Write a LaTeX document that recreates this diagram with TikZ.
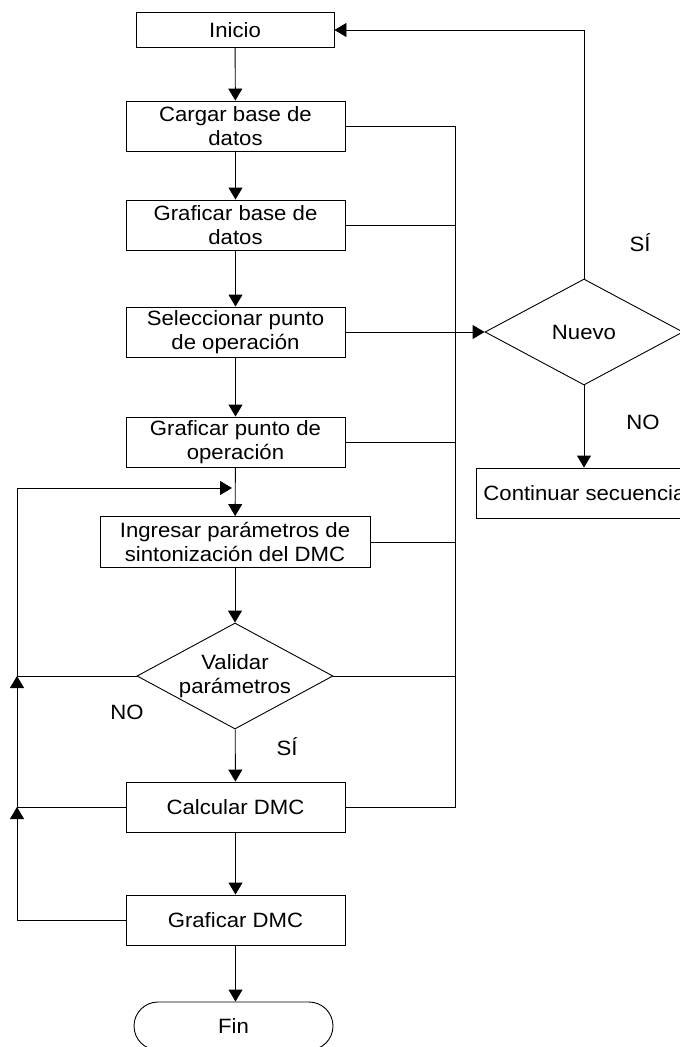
\documentclass[tikz,border=0pt]{standalone}
\usepackage{fontspec}
\setmainfont{Liberation Sans}[FakeStretch=1.07]
\usetikzlibrary{arrows.meta,shapes.geometric}

\begin{document}
\begin{tikzpicture}[x=1pt,y=-1pt,>={Triangle[length=12pt,width=14pt]},line width=0.9pt,
  font=\fontsize{20.7}{24}\selectfont,
  paso/.style={draw,rectangle,align=center,minimum width=219pt,minimum height=50pt,inner sep=2pt},
  decision/.style={draw,diamond,align=center,inner sep=0pt,aspect=1.85},
  terminal/.style={draw,rectangle,rounded corners=24pt,minimum width=199pt,minimum height=48pt}]
\useasboundingbox (0,0) rectangle (680,1047);
\node[paso,minimum width=198pt,minimum height=35pt] (inicio) at (235,30) {Inicio};
\node[paso] (cargar) at (235.5,126) {Cargar base de\\datos};
\node[paso] (grafbase) at (235.5,225) {Graficar base de\\datos};
\node[paso] (selec) at (235.5,332) {Seleccionar punto\\de operación};
\node[paso] (grafpunto) at (235.5,442) {Graficar punto de\\operación};
\node[paso,minimum width=270pt,minimum height=51pt] (ingresar) at (235,542) {Ingresar parámetros de\\sintonización del DMC};
\node[decision,minimum width=196pt,minimum height=106pt] (validar) at (235,676) {Validar\\parámetros};
\node[paso] (calcular) at (235.5,807) {Calcular DMC};
\node[paso] (grafdmc) at (235.5,920) {Graficar DMC};
\node[terminal] (fin) at (233.5,1026) {Fin};
\node[decision,minimum width=198pt,minimum height=106pt] (nuevo) at (584,332) {Nuevo};
\node[paso,anchor=west,minimum width=0pt,inner xsep=7pt] (continuar) at (476,493) {Continuar secuencia};
\node (si1) at (640,243) {SÍ};
\node (no1) at (643,422) {NO};
\node (no2) at (127,712) {NO};
\node (si2) at (287,747) {SÍ};
\coordinate (bustop) at (455,126);
\coordinate (busbot) at (455,807);
\coordinate (lefttop) at (17,488);
\coordinate (looptip) at (232,488);

\draw[->] (inicio) -- (cargar);
\draw[->] (cargar) -- (grafbase);
\draw[->] (grafbase) -- (selec);
\draw[->] (selec) -- (grafpunto);
\draw[->] (grafpunto) -- (ingresar);
\draw[->] (ingresar) -- (validar);
\draw[->] (validar) -- (calcular);
\draw[->] (calcular) -- (grafdmc);
\draw[->] (grafdmc.south) -- (fin.north -| grafdmc.south);

\draw (cargar.east) -- (bustop) -- (busbot) -- (calcular.east);
\draw (grafbase.east) -- (grafbase.east -| bustop);
\draw (grafpunto.east) -- (grafpunto.east -| bustop);
\draw (ingresar.east) -- (ingresar.east -| bustop);
\draw (validar.east) -- (validar.east -| bustop);
\draw[->] (selec.east) -- (nuevo.west);
\draw[->] (nuevo.north) |- (inicio.east);
\draw[->] (nuevo.south) -- (nuevo.south |- continuar.north);

\draw[->] (grafdmc.west) -| (calcular.west -| lefttop);
\draw[->] (calcular.west) -| (validar.west -| lefttop);
\draw[->] (validar.west) -| (lefttop) -- (looptip);
\end{tikzpicture}
\end{document}
